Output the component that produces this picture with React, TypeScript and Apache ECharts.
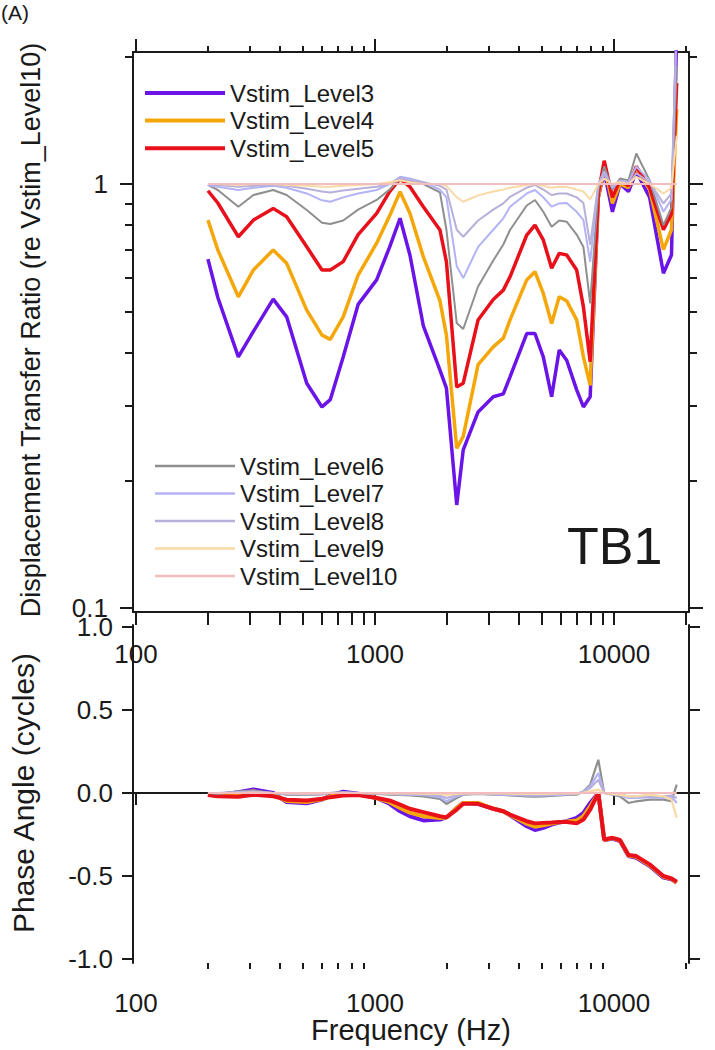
import React, { useEffect, useRef } from 'react';
import * as echarts from 'echarts';

// ---------- data ----------
const FREQ_HZ = [200, 220, 268, 310, 375, 427, 518, 600, 650, 736, 850, 1016, 1150, 1273, 1400, 1593, 1870, 1990, 2198, 2340, 2700, 3125, 3443, 3673, 4315, 4670, 5060, 5484, 5900, 6340, 6980, 7450, 7950, 8600, 9100, 9850, 10600, 11500, 12400, 14100, 16100, 17400, 18300];

const AMP_L3 = [0.665, 0.54, 0.391, 0.449, 0.535, 0.486, 0.339, 0.298, 0.31, 0.391, 0.52, 0.594, 0.709, 0.83, 0.68, 0.463, 0.364, 0.33, 0.175, 0.236, 0.29, 0.315, 0.32, 0.351, 0.444, 0.444, 0.391, 0.315, 0.406, 0.384, 0.327, 0.298, 0.315, 0.93, 1.07, 0.86, 1.0, 0.96, 1.07, 0.93, 0.616, 0.68, 2.3];
const AMP_L4 = [0.822, 0.699, 0.542, 0.627, 0.699, 0.65, 0.504, 0.44, 0.43, 0.486, 0.61, 0.725, 0.84, 0.959, 0.853, 0.674, 0.53, 0.44, 0.238, 0.254, 0.375, 0.413, 0.433, 0.478, 0.594, 0.621, 0.552, 0.469, 0.542, 0.53, 0.478, 0.391, 0.335, 0.93, 1.1, 0.9, 1.0, 0.98, 1.09, 0.97, 0.7, 0.78, 1.5];
const AMP_L5 = [0.964, 0.902, 0.751, 0.822, 0.876, 0.837, 0.711, 0.627, 0.627, 0.656, 0.76, 0.853, 0.958, 1.03, 0.985, 0.884, 0.779, 0.655, 0.332, 0.339, 0.478, 0.534, 0.562, 0.604, 0.758, 0.8, 0.738, 0.633, 0.686, 0.68, 0.627, 0.513, 0.381, 0.95, 1.135, 0.93, 1.02, 0.99, 1.1, 0.98, 0.78, 0.85, 1.73];
const AMP_L6 = [0.995, 0.968, 0.884, 0.942, 0.968, 0.942, 0.868, 0.81, 0.805, 0.82, 0.87, 0.917, 0.97, 1.03, 1.02, 1.0, 0.955, 0.78, 0.47, 0.455, 0.573, 0.66, 0.72, 0.779, 0.89, 0.917, 0.86, 0.793, 0.82, 0.815, 0.76, 0.71, 0.523, 0.97, 1.1, 0.97, 1.03, 1.02, 1.18, 1.02, 0.8, 0.88, 1.9];
const AMP_L7 = [0.995, 0.985, 0.968, 0.98, 0.99, 0.98, 0.95, 0.915, 0.908, 0.93, 0.95, 0.968, 1.0, 1.04, 1.03, 1.01, 0.97, 0.93, 0.64, 0.6, 0.711, 0.78, 0.83, 0.884, 0.95, 0.968, 0.93, 0.884, 0.9, 0.902, 0.86, 0.822, 0.655, 1.0, 1.07, 0.98, 1.02, 1.01, 1.1, 1.02, 0.86, 0.92, 2.4];
const AMP_L8 = [1.0, 0.995, 0.985, 0.99, 0.995, 0.99, 0.975, 0.96, 0.955, 0.965, 0.975, 0.985, 1.0, 1.03, 1.02, 1.01, 0.99, 0.97, 0.78, 0.751, 0.82, 0.87, 0.9, 0.933, 0.98, 0.995, 0.97, 0.942, 0.95, 0.95, 0.93, 0.902, 0.72, 1.0, 1.05, 0.99, 1.01, 1.0, 1.06, 1.01, 0.9, 0.95, 2.4];
const AMP_L9 = [1.0, 1.0, 0.995, 1.0, 1.0, 0.995, 0.99, 0.985, 0.985, 0.99, 0.995, 1.0, 1.01, 1.02, 1.01, 1.0, 1.0, 0.99, 0.93, 0.908, 0.94, 0.96, 0.97, 0.98, 0.995, 1.0, 0.99, 0.98, 0.985, 0.985, 0.97, 0.96, 0.92, 1.0, 1.03, 1.0, 1.01, 1.0, 1.04, 1.0, 0.95, 0.98, 1.3];
const AMP_L10 = [1, 1, 1, 1, 1, 1, 1, 1, 1, 1, 1, 1, 1, 1, 1, 1, 1, 1, 1, 1, 1, 1, 1, 1, 1, 1, 1, 1, 1, 1, 1, 1, 1, 1, 1, 1, 1, 1, 1, 1, 1, 1, 1];

const PHASE_L3 = [-0.01, -0.012, 0.005, 0.022, 0.0, -0.055, -0.062, -0.04, -0.015, 0.008, -0.005, -0.03, -0.065, -0.11, -0.14, -0.165, -0.16, -0.147, -0.09, -0.06, -0.065, -0.095, -0.11, -0.135, -0.2, -0.223, -0.21, -0.19, -0.178, -0.17, -0.15, -0.12, -0.06, 0.0, -0.285, -0.275, -0.29, -0.38, -0.39, -0.44, -0.51, -0.52, -0.54];
const PHASE_L4 = [-0.011, -0.016, -0.008, 0.01, -0.01, -0.048, -0.054, -0.038, -0.02, -0.004, -0.008, -0.03, -0.055, -0.09, -0.118, -0.14, -0.15, -0.147, -0.09, -0.06, -0.06, -0.095, -0.11, -0.132, -0.185, -0.203, -0.195, -0.184, -0.176, -0.172, -0.166, -0.14, -0.08, 0.0, -0.283, -0.272, -0.286, -0.376, -0.385, -0.435, -0.505, -0.517, -0.54];
const PHASE_L5 = [-0.012, -0.02, -0.022, -0.01, -0.02, -0.04, -0.045, -0.035, -0.025, -0.015, -0.012, -0.03, -0.045, -0.07, -0.095, -0.115, -0.14, -0.147, -0.1, -0.065, -0.065, -0.095, -0.11, -0.13, -0.17, -0.183, -0.18, -0.178, -0.175, -0.175, -0.183, -0.16, -0.1, 0.0, -0.28, -0.27, -0.283, -0.373, -0.38, -0.43, -0.5, -0.515, -0.535];
const PHASE_L6 = [0.0, -0.005, 0.01, 0.015, 0.0, -0.01, -0.012, -0.008, 0.0, 0.005, 0.0, -0.005, -0.01, -0.012, -0.015, -0.02, -0.035, -0.066, -0.03, -0.01, -0.005, -0.01, -0.012, -0.015, -0.02, -0.022, -0.02, -0.018, -0.015, -0.012, -0.01, 0.01, 0.05, 0.2, 0.0, -0.01, -0.02, -0.06, -0.05, -0.04, -0.04, -0.05, 0.05];
const PHASE_L7 = [0.0, 0.0, 0.005, 0.008, 0.0, -0.005, -0.008, -0.005, 0.0, 0.003, 0.0, -0.003, -0.006, -0.008, -0.01, -0.012, -0.025, -0.05, -0.02, -0.008, -0.004, -0.008, -0.01, -0.012, -0.015, -0.016, -0.015, -0.013, -0.011, -0.009, -0.006, 0.008, 0.04, 0.12, 0.0, -0.008, -0.015, -0.03, -0.03, -0.025, -0.03, -0.02, -0.06];
const PHASE_L8 = [0.0, 0.0, 0.003, 0.005, 0.0, -0.003, -0.005, -0.003, 0.0, 0.002, 0.0, -0.002, -0.004, -0.005, -0.006, -0.008, -0.015, -0.03, -0.012, -0.005, -0.003, -0.005, -0.006, -0.008, -0.01, -0.01, -0.01, -0.008, -0.007, -0.006, -0.004, 0.005, 0.03, 0.08, 0.0, -0.005, -0.01, -0.02, -0.02, -0.02, -0.02, -0.015, -0.03];
const PHASE_L9 = [0.0, 0.0, 0.0, 0.002, 0.0, -0.001, -0.002, -0.001, 0.0, 0.0, 0.0, -0.001, -0.002, -0.002, -0.003, -0.004, -0.006, -0.012, -0.005, -0.002, -0.001, -0.002, -0.003, -0.004, -0.005, -0.005, -0.005, -0.004, -0.003, -0.003, -0.002, 0.002, 0.01, 0.02, 0.0, -0.005, -0.01, -0.02, -0.02, -0.01, -0.02, -0.04, -0.15];
const PHASE_L10 = [0, 0, 0, 0, 0, 0, 0, 0, 0, 0, 0, 0, 0, 0, 0, 0, 0, 0, 0, 0, 0, 0, 0, 0, 0, 0, 0, 0, 0, 0, 0, 0, 0, 0, 0, 0, 0, 0, 0, 0, 0, 0, 0];

const SERIES_NAMES = ['Vstim_Level3', 'Vstim_Level4', 'Vstim_Level5', 'Vstim_Level6', 'Vstim_Level7', 'Vstim_Level8', 'Vstim_Level9', 'Vstim_Level10'];

const X_MAJOR_TICKS = [100, 1000, 10000];
const X_MINOR_TICKS = [200, 300, 400, 500, 600, 700, 800, 900, 2000, 3000, 4000, 5000, 6000, 7000, 8000, 9000, 20000];
const X_ALL_TICKS = [100, 200, 300, 400, 500, 600, 700, 800, 900, 1000, 2000, 3000, 4000, 5000, 6000, 7000, 8000, 9000, 10000, 20000];
const Y_AMP_MAJOR_TICKS = [0.1, 1];
const Y_AMP_MINOR_TICKS = [0.2, 0.3, 0.4, 0.5, 0.6, 0.7, 0.8, 0.9, 2];
const Y_PHASE_TICKS = [-1, -0.5, 0, 0.5, 1];

// ---------- style ----------
const COLORS = ['#6a14e8', '#f5a70a', '#e8101a', '#8f8f8f', '#b3b3f5', '#b8b0d8', '#f9d9a6', '#f4bdbd'];
const FONT = "'Liberation Sans', Arial, sans-serif";
const INK = '#1a1a1a';
const X_MIN = 97.15;
const X_MAX = 20600;
const AMP_MIN = 0.09785;
const AMP_MAX = 2.048;
const PH_MIN = -1.0241;
const PH_MAX = 1.012;

const line = { show: true, lineStyle: { color: INK, width: 2 } };
const noSplit = { show: false };

function logX(gridIndex: number, position: string, extra: any) {
  return {
    type: 'log', logBase: 10, gridIndex, position, min: X_MIN, max: X_MAX,
    splitLine: noSplit, axisLine: { show: false }, axisLabel: { show: false }, axisTick: { show: false },
    ...extra,
  };
}

function buildOption() {
  const AMP = [AMP_L3, AMP_L4, AMP_L5, AMP_L6, AMP_L7, AMP_L8, AMP_L9, AMP_L10];
  const PHASE = [PHASE_L3, PHASE_L4, PHASE_L5, PHASE_L6, PHASE_L7, PHASE_L8, PHASE_L9, PHASE_L10];
  const series: any[] = [];
  SERIES_NAMES.forEach((name, i) => {
    series.push({
      name, type: 'line', xAxisIndex: 0, yAxisIndex: 0, symbol: 'none', showSymbol: false,
      data: FREQ_HZ.map((f, k) => [f, AMP[i][k]]),
      lineStyle: { color: COLORS[i], width: i < 3 ? 3.5 : 2 }, itemStyle: { color: COLORS[i] },
      z: 2 + i, silent: true, clip: true,
    });
  });
  SERIES_NAMES.forEach((name, i) => {
    series.push({
      name, type: 'line', xAxisIndex: 3, yAxisIndex: 4, symbol: 'none', showSymbol: false,
      data: FREQ_HZ.map((f, k) => [f, PHASE[i][k]]),
      lineStyle: { color: COLORS[i], width: i < 3 ? 4 : 2.2 }, itemStyle: { color: COLORS[i] },
      z: 2 + i, silent: true, clip: true,
    });
  });

  const legendText = { fontSize: 24, fontFamily: FONT, color: INK };

  return {
    animation: false,
    backgroundColor: '#ffffff',
    grid: [
      { left: 133, top: 52, width: 556, height: 560 },
      { left: 133, top: 625, width: 556, height: 338 },
    ],
    xAxis: [
      logX(0, 'top', { axisLine: line, axisTick: { show: true, customValues: X_MAJOR_TICKS, length: 13, lineStyle: { color: INK, width: 2 } } }),
      logX(0, 'top', { axisTick: { show: true, customValues: X_MINOR_TICKS, length: 6, lineStyle: { color: INK, width: 2 } } }),
      logX(0, 'bottom', { axisLine: line, axisTick: { show: true, customValues: X_ALL_TICKS, length: 13, lineStyle: { color: INK, width: 2 } } }),
      logX(1, 'top', {
        axisLine: line,
        axisLabel: { show: true, inside: true, margin: 16, customValues: X_MAJOR_TICKS, fontSize: 26, fontFamily: FONT, color: INK, formatter: (v: number) => String(Math.round(v)) },
      }),
      logX(1, 'bottom', {
        axisLine: line,
        axisTick: { show: true, customValues: X_MAJOR_TICKS, length: 12, lineStyle: { color: INK, width: 2 } },
        axisLabel: { show: true, margin: 30, lineHeight: 20, customValues: X_MAJOR_TICKS, fontSize: 26, fontFamily: FONT, color: INK, formatter: (v: number) => String(Math.round(v)) },
      }),
      logX(1, 'bottom', { axisTick: { show: true, customValues: X_MINOR_TICKS, length: 6, lineStyle: { color: INK, width: 2 } } }),
    ],
    yAxis: [
      {
        type: 'log', logBase: 10, gridIndex: 0, position: 'left', min: AMP_MIN, max: AMP_MAX, splitLine: noSplit,
        axisLine: line,
        axisTick: { show: true, customValues: Y_AMP_MAJOR_TICKS, length: 13, lineStyle: { color: INK, width: 2 } },
        axisLabel: { show: true, margin: 25, lineHeight: 18, customValues: Y_AMP_MAJOR_TICKS, fontSize: 26, fontFamily: FONT, color: INK, formatter: (v: number) => (v < 0.5 ? '0.1' : '1') },
      },
      {
        type: 'log', logBase: 10, gridIndex: 0, position: 'left', min: AMP_MIN, max: AMP_MAX, splitLine: noSplit,
        axisLine: { show: false }, axisLabel: { show: false },
        axisTick: { show: true, customValues: Y_AMP_MINOR_TICKS, length: 8, lineStyle: { color: INK, width: 2 } },
      },
      {
        type: 'log', logBase: 10, gridIndex: 0, position: 'right', min: AMP_MIN, max: AMP_MAX, splitLine: noSplit,
        axisLine: line, axisLabel: { show: false },
        axisTick: { show: true, customValues: Y_AMP_MAJOR_TICKS, length: 14, lineStyle: { color: INK, width: 2 } },
      },
      {
        type: 'log', logBase: 10, gridIndex: 0, position: 'right', min: AMP_MIN, max: AMP_MAX, splitLine: noSplit,
        axisLine: { show: false }, axisLabel: { show: false },
        axisTick: { show: true, customValues: Y_AMP_MINOR_TICKS, length: 8, lineStyle: { color: INK, width: 2 } },
      },
      {
        type: 'value', gridIndex: 1, position: 'left', min: PH_MIN, max: PH_MAX, splitLine: noSplit,
        axisLine: line,
        axisTick: { show: true, customValues: Y_PHASE_TICKS, length: 11, lineStyle: { color: INK, width: 2 } },
        axisLabel: { show: true, margin: 20, lineHeight: 18, customValues: Y_PHASE_TICKS, fontSize: 26, fontFamily: FONT, color: INK, formatter: (v: number) => v.toFixed(1) },
      },
      {
        type: 'value', gridIndex: 1, position: 'right', min: PH_MIN, max: PH_MAX, splitLine: noSplit,
        axisLine: line, axisLabel: { show: false },
        axisTick: { show: true, customValues: Y_PHASE_TICKS, length: 11, lineStyle: { color: INK, width: 2 } },
      },
    ],
    legend: [
      {
        data: SERIES_NAMES.slice(0, 3), orient: 'vertical', left: 145, top: 81, padding: 0,
        itemWidth: 80, itemHeight: 4, itemGap: 3.6, icon: 'rect', selectedMode: false,
        textStyle: legendText,
      },
      {
        data: SERIES_NAMES.slice(3), orient: 'vertical', left: 155, top: 454, padding: 0,
        itemWidth: 80, itemHeight: 2.5, itemGap: 3.5, icon: 'rect', selectedMode: false,
        textStyle: legendText,
      },
    ],
    graphic: [
      { type: 'text', x: 1, y: 12, style: { text: '(A)', fontSize: 21, fontFamily: FONT, fill: INK, align: 'left', verticalAlign: 'middle' } },
      { type: 'text', x: 567, y: 546, style: { text: 'TB1', fontSize: 52, fontFamily: FONT, fill: INK, align: 'left', verticalAlign: 'middle' } },
      { type: 'text', x: 31, y: 330, rotation: Math.PI / 2, style: { text: 'Displacement Transfer Ratio (re Vstim_Level10)', fontSize: 27, fontFamily: FONT, fill: INK, align: 'center', verticalAlign: 'middle' } },
      { type: 'text', x: 23, y: 793, rotation: Math.PI / 2, style: { text: 'Phase Angle (cycles)', fontSize: 30, fontFamily: FONT, fill: INK, align: 'center', verticalAlign: 'middle' } },
      { type: 'text', x: 411, y: 1030, style: { text: 'Frequency (Hz)', fontSize: 29, lineHeight: 24, fontFamily: FONT, fill: INK, align: 'center', verticalAlign: 'middle' } },
    ],
    series,
  };
}

export default function App() {
  const ref = useRef<HTMLDivElement>(null);
  useEffect(() => {
    if (!ref.current) return;
    const chart = echarts.init(ref.current, undefined, { renderer: 'svg' });
    chart.setOption(buildOption() as any);
    return () => chart.dispose();
  }, []);
  return (
    <div
      ref={ref}
      style={{ position: 'fixed', left: 0, top: 0, width: 715, height: 1050, background: '#ffffff' }}
    />
  );
}
